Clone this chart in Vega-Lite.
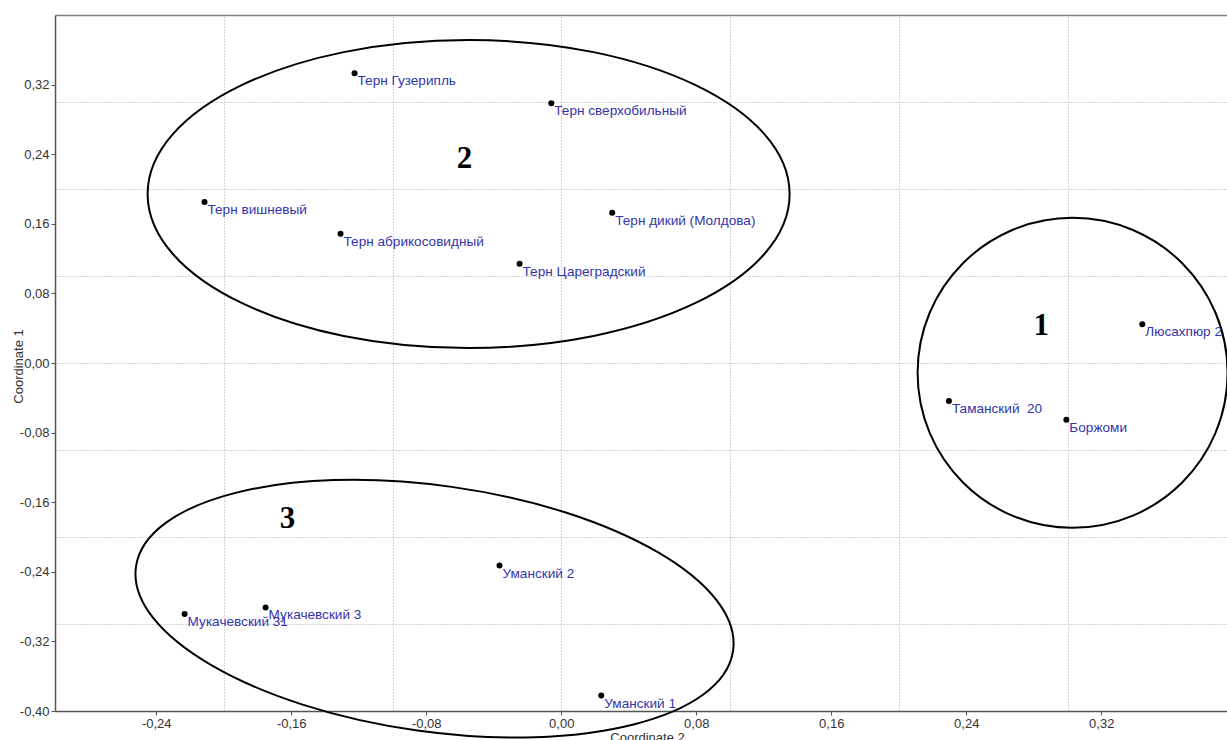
{
  "$schema": "https://vega.github.io/schema/vega-lite/v6.json",
  "width": 1172,
  "height": 696,
  "autosize": "none",
  "padding": {"left": 55, "top": 15, "right": 0, "bottom": 29},
  "background": "white",
  "config": {"view": {"stroke": null}, "font": "Liberation Sans"},
  "datasets": {
    "pts": [
      {"name": "Терн Гузерипль", "c1": 0.3331, "c2": -0.1225},
      {"name": "Терн сверхобильный", "c1": 0.2986, "c2": -0.0059},
      {"name": "Терн вишневый", "c1": 0.1850, "c2": -0.2114},
      {"name": "Терн абрикосовидный", "c1": 0.1485, "c2": -0.1308},
      {"name": "Терн Цареградский", "c1": 0.1142, "c2": -0.0247},
      {"name": "Терн дикий (Молдова)", "c1": 0.1727, "c2": 0.0302},
      {"name": "Мукачевский 31", "c1": -0.2885, "c2": -0.2232},
      {"name": "Мукачевский 3", "c1": -0.2809, "c2": -0.1752},
      {"name": "Уманский 2", "c1": -0.2329, "c2": -0.0366},
      {"name": "Уманский 1", "c1": -0.3822, "c2": 0.0237},
      {"name": "Люсахпюр 2", "c1": 0.0445, "c2": 0.3443},
      {"name": "Таманский \u00a020", "c1": -0.0437, "c2": 0.2297},
      {"name": "Боржоми", "c1": -0.0652, "c2": 0.2993}
    ],
    "ellipses": [
      {"cluster": "1", "c2": 0.3030, "c1": -0.0113},
      {"cluster": "2", "c2": -0.0549, "c1": 0.1942},
      {"cluster": "3", "c2": -0.0751, "c1": -0.2824}
    ],
    "numbers": [
      {"cluster": "1", "c2": 0.2844, "c1": 0.0327},
      {"cluster": "2", "c2": -0.0573, "c1": 0.2241},
      {"cluster": "3", "c2": -0.1622, "c1": -0.1891}
    ]
  },
  "resolve": {"axis": {"x": "independent", "y": "independent"}},
  "layer": [
    {
      "data": {"name": "ellipses"},
      "transform": [{"filter": "datum.cluster === '1'"}],
      "mark": {
        "type": "point",
        "shape": "M 1 0 C 1 0.5523 0.5523 1 0 1 C -0.5523 1 -1 0.5523 -1 0 C -1 -0.5523 -0.5523 -1 0 -1 C 0.5523 -1 1 -0.5523 1 0 Z",
        "size": 96100,
        "filled": false,
        "color": "black",
        "strokeWidth": 2,
        "opacity": 1
      },
      "encoding": {
        "x": {
          "field": "c2", "type": "quantitative",
          "scale": {"domain": [-0.3, 0.3945], "nice": false, "zero": false},
          "axis": {
            "orient": "top", "values": [-0.2, -0.1, 0, 0.1, 0.2, 0.3],
            "grid": true, "gridColor": "#aaaaaa", "gridDash": [1, 2], "gridWidth": 1,
            "labels": false, "ticks": false, "domain": true, "domainColor": "#808080", "domainWidth": 1.5,
            "title": null
          }
        },
        "y": {
          "field": "c1", "type": "quantitative",
          "scale": {"domain": [-0.4, 0.4], "nice": false, "zero": false},
          "axis": {
            "orient": "right", "values": [-0.3, -0.2, -0.1, 0, 0.1, 0.2, 0.3],
            "grid": true, "gridColor": "#aaaaaa", "gridDash": [1, 2], "gridWidth": 1,
            "labels": false, "ticks": false, "domain": false,
            "title": null
          }
        }
      }
    },
    {
      "data": {"name": "ellipses"},
      "transform": [{"filter": "datum.cluster === '2'"}],
      "mark": {
        "type": "point",
        "shape": "M 1 0 C 1 0.265 0.5523 0.4798 0 0.4798 C -0.5523 0.4798 -1 0.265 -1 0 C -1 -0.265 -0.5523 -0.4798 0 -0.4798 C 0.5523 -0.4798 1 -0.265 1 0 Z",
        "size": 412164,
        "filled": false,
        "color": "black",
        "strokeWidth": 2,
        "opacity": 1
      },
      "encoding": {
        "x": {"field": "c2", "type": "quantitative", "scale": {"domain": [-0.3, 0.3945], "nice": false, "zero": false}, "axis": null},
        "y": {"field": "c1", "type": "quantitative", "scale": {"domain": [-0.4, 0.4], "nice": false, "zero": false}, "axis": null}
      }
    },
    {
      "data": {"name": "ellipses"},
      "transform": [{"filter": "datum.cluster === '3'"}],
      "mark": {
        "type": "point",
        "shape": "M 1 0 C 1 0.2253 0.5523 0.408 0 0.408 C -0.5523 0.408 -1 0.2253 -1 0 C -1 -0.2253 -0.5523 -0.408 0 -0.408 C 0.5523 -0.408 1 -0.2253 1 0 Z",
        "size": 363609,
        "angle": 8,
        "filled": false,
        "color": "black",
        "strokeWidth": 2,
        "opacity": 1
      },
      "encoding": {
        "x": {"field": "c2", "type": "quantitative", "scale": {"domain": [-0.3, 0.3945], "nice": false, "zero": false}, "axis": null},
        "y": {"field": "c1", "type": "quantitative", "scale": {"domain": [-0.4, 0.4], "nice": false, "zero": false}, "axis": null}
      }
    },
    {
      "data": {"name": "pts"},
      "mark": {"type": "circle", "size": 36, "color": "black", "opacity": 1},
      "encoding": {
        "x": {
          "field": "c2", "type": "quantitative",
          "scale": {"domain": [-0.3, 0.3945], "nice": false, "zero": false},
          "axis": {
            "orient": "bottom",
            "values": [-0.24, -0.16, -0.08, 0, 0.08, 0.16, 0.24, 0.32],
            "labelExpr": "replace(replace(format(datum.value, '.2f'), '.', ','), '−', '-')",
            "grid": false, "domainColor": "#555555", "domainWidth": 1.5, "tickColor": "#555555", "tickSize": 4,
            "labelFontSize": 13, "labelColor": "#333333", "labelPadding": 2, "labelFlush": false, "labelOverlap": false, "labelBound": false,
            "title": "Coordinate 2", "titleFontSize": 13, "titleFontWeight": "normal", "titleColor": "#333333",
            "titleX": 592, "titleY": 20, "titleBaseline": "top", "titleAlign": "center"
          }
        },
        "y": {
          "field": "c1", "type": "quantitative",
          "scale": {"domain": [-0.4, 0.4], "nice": false, "zero": false},
          "axis": {
            "orient": "left",
            "values": [-0.4, -0.32, -0.24, -0.16, -0.08, 0, 0.08, 0.16, 0.24, 0.32],
            "labelExpr": "replace(replace(format(datum.value, '.2f'), '.', ','), '−', '-')",
            "grid": false, "domainColor": "#555555", "domainWidth": 1.5, "tickColor": "#555555", "tickSize": 4,
            "labelFontSize": 13, "labelColor": "#333333", "labelPadding": 2, "labelFlush": false, "labelOverlap": false, "labelBound": false,
            "title": "Coordinate 1", "titleFontSize": 13, "titleFontWeight": "normal", "titleColor": "#333333",
            "titleX": -37, "titleY": 351, "titleBaseline": "middle", "titleAlign": "center", "titleAngle": 270
          }
        }
      }
    },
    {
      "data": {"name": "pts"},
      "mark": {"type": "text", "align": "left", "baseline": "alphabetic", "dx": 3, "dy": 12, "fontSize": 13.6, "color": "#3434aa", "font": "Liberation Sans"},
      "encoding": {
        "x": {"field": "c2", "type": "quantitative", "scale": {"domain": [-0.3, 0.3945], "nice": false, "zero": false}, "axis": null},
        "y": {"field": "c1", "type": "quantitative", "scale": {"domain": [-0.4, 0.4], "nice": false, "zero": false}, "axis": null},
        "text": {"field": "name", "type": "nominal"}
      }
    },
    {
      "data": {"name": "numbers"},
      "mark": {"type": "text", "align": "center", "baseline": "alphabetic", "fontSize": 31, "fontWeight": "bold", "color": "black", "font": "Liberation Serif"},
      "encoding": {
        "x": {"field": "c2", "type": "quantitative", "scale": {"domain": [-0.3, 0.3945], "nice": false, "zero": false}, "axis": null},
        "y": {"field": "c1", "type": "quantitative", "scale": {"domain": [-0.4, 0.4], "nice": false, "zero": false}, "axis": null},
        "text": {"field": "cluster", "type": "nominal"}
      }
    }
  ]
}
